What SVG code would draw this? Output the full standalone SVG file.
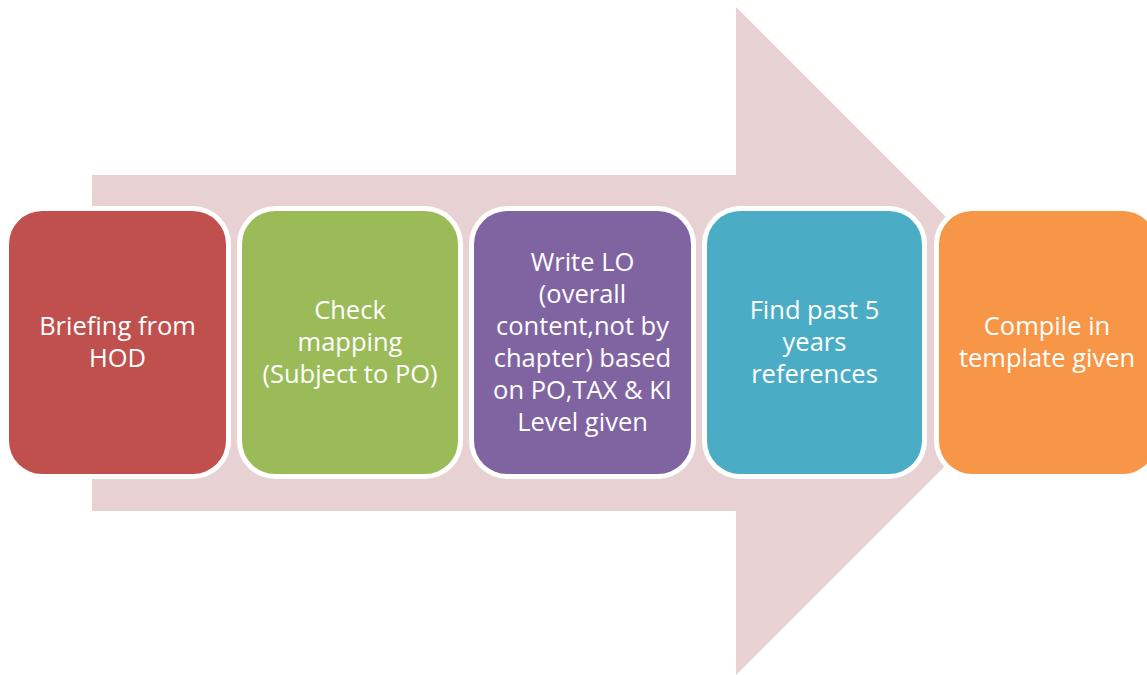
<svg xmlns="http://www.w3.org/2000/svg" width="1147" height="675" viewBox="0 0 1147 675">
<style>
.frame{fill:#FFFFFF;}
.lbl{font-family:"Open Sans","Liberation Sans",sans-serif;font-size:25.5px;fill:#FFFFFF;text-anchor:middle;}
</style>
<rect width="1147" height="675" fill="#FFFFFF"/>
<g id="arrow">
<polygon points="92,175 736,175 736,7 1070,341 736,675 736,511 92,511" fill="#E8D1D2"/>
</g>
<g id="connectors"></g>
<g id="node1">
<rect class="frame" x="4" y="206" width="227" height="273" rx="38"/>
<rect x="9" y="211" width="217" height="263" rx="33" fill="#C0504D"/>
<text class="lbl" x="117.5"><tspan x="117.5" y="335">Briefing from</tspan><tspan x="117.5" y="367">HOD</tspan></text>
</g>
<g id="node2">
<rect class="frame" x="237" y="206" width="226" height="273" rx="38"/>
<rect x="242" y="211" width="216" height="263" rx="33" fill="#9BBB59"/>
<text class="lbl"><tspan x="350" y="319">Check</tspan><tspan x="350" y="351">mapping</tspan><tspan x="350" y="383">(Subject to PO)</tspan></text>
</g>
<g id="node3">
<rect class="frame" x="469" y="206" width="227" height="273" rx="38"/>
<rect x="474" y="211" width="217" height="263" rx="33" fill="#8064A2"/>
<text class="lbl"><tspan x="582.5" y="271">Write LO</tspan><tspan x="582.5" y="303">(overall</tspan><tspan x="582.5" y="335">content,not by</tspan><tspan x="582.5" y="367">chapter) based</tspan><tspan x="582.5" y="399">on PO,TAX &amp; KI</tspan><tspan x="582.5" y="431">Level given</tspan></text>
</g>
<g id="node4">
<rect class="frame" x="702" y="206" width="225" height="273" rx="38"/>
<rect x="707" y="211" width="215" height="263" rx="33" fill="#4BACC6"/>
<text class="lbl"><tspan x="814.5" y="319">Find past 5</tspan><tspan x="814.5" y="351">years</tspan><tspan x="814.5" y="383">references</tspan></text>
</g>
<g id="node5">
<rect class="frame" x="934" y="206" width="227" height="273" rx="38"/>
<rect x="939" y="211" width="217" height="263" rx="33" fill="#F79646"/>
<text class="lbl"><tspan x="1047" y="335">Compile in</tspan><tspan x="1047" y="367">template given</tspan></text>
</g>
</svg>
